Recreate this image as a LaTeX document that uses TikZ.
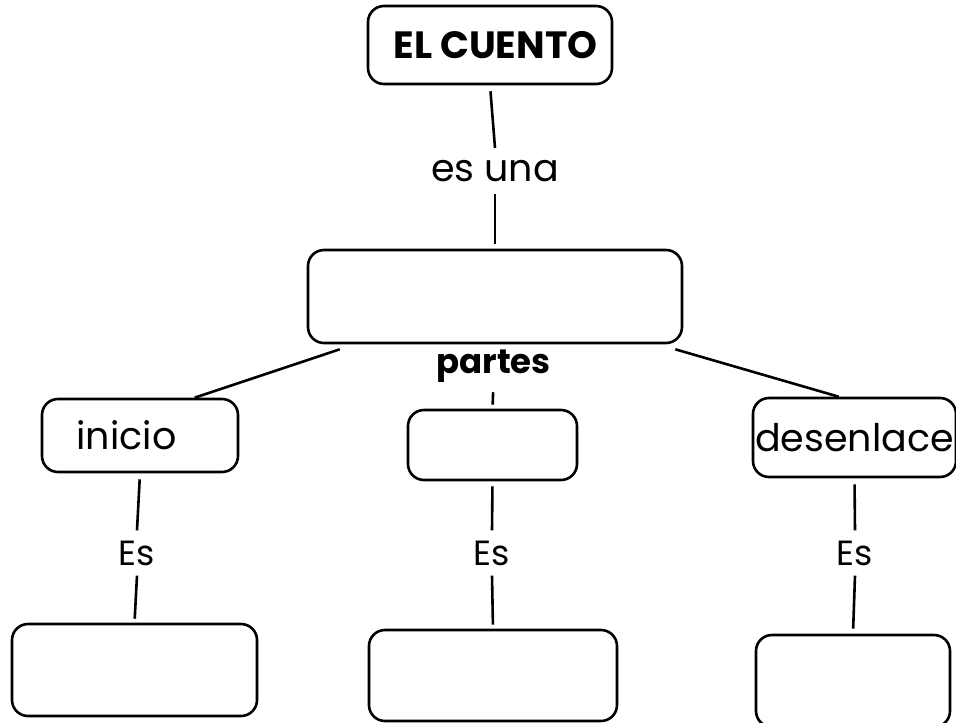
\documentclass[tikz,border=0pt]{standalone}
\usepackage{fontspec}
\setmainfont{Poppins}
\newcommand{\fsz}[1]{\fontsize{#1}{#1}\selectfont}
\begin{document}
\begin{tikzpicture}[x=1pt,y=-1pt,
  box/.style={draw, line width=2.6pt, rounded corners=16pt, inner sep=0pt},
  lbl/.style={inner xsep=2pt, inner ysep=10pt},
  conn/.style={line width=2.6pt}]
\useasboundingbox (0,0) rectangle (956,723);
\clip (0,0) rectangle (956,723);
% boxes
\node[box, minimum width=244pt, minimum height=78pt, font=\fsz{38}\bfseries] (cuento) at (490,45) {\hspace*{11pt}EL CUENTO};
\node[box, minimum width=374pt, minimum height=93pt] (tipo) at (495,296.5) {};
\node[box, minimum width=196pt, minimum height=73pt, font=\fsz{38}] (inicio) at (140,435.5) {inicio\hspace*{27pt}};
\node[box, minimum width=169pt, minimum height=70pt] (nudo) at (492.5,445) {};
\node[box, minimum width=203pt, minimum height=79pt, font=\fsz{38}] (desenlace) at (854.5,437.5) {desenlace};
\node[box, minimum width=245pt, minimum height=92pt] (b1) at (134.5,670) {};
\node[box, minimum width=248pt, minimum height=91pt] (b2) at (493,675.5) {};
\node[box, minimum width=194pt, minimum height=92pt] (b3) at (853,681) {};
% labels
\node[lbl, inner ysep=12pt, font=\fsz{38}] (esuna) at (495,171) {es una};
\node[inner sep=0pt, anchor=base, font=\fsz{34}\bfseries] (partes) at (493.5,373) {partes};
\node[lbl, font=\fsz{35}] (es1) at (137,553) {Es};
\node[lbl, font=\fsz{35}] (es2) at (492,553) {Es};
\node[lbl, font=\fsz{35}] (es3) at (855,553) {Es};
% connectors
\draw[conn, shorten <=6pt] (cuento.south) -- (esuna.north);
\draw[conn, shorten >=5pt] (esuna.south) -- (tipo.north);
\draw[conn] ([shift={(33,5)}]tipo.south west) -- ([xshift=154pt]inicio.north west);
\draw[conn] ([shift={(-8,5)}]tipo.south east) -- ([xshift=87pt]desenlace.north west);
\draw[conn, shorten <=10pt, shorten >=4pt] (partes.south) -- (nudo.north);
\draw[conn, shorten <=6pt] (inicio.south) -- (es1.north);
\draw[conn, shorten >=4pt] (es1.south) -- (b1.north);
\draw[conn, shorten <=5pt] (nudo.south) -- (es2.north);
\draw[conn, shorten >=4pt] (es2.south) -- (b2.north);
\draw[conn, shorten <=6pt] (desenlace.south) -- (es3.north);
\draw[conn, shorten >=5pt] (es3.south) -- (b3.north);
\end{tikzpicture}
\end{document}
